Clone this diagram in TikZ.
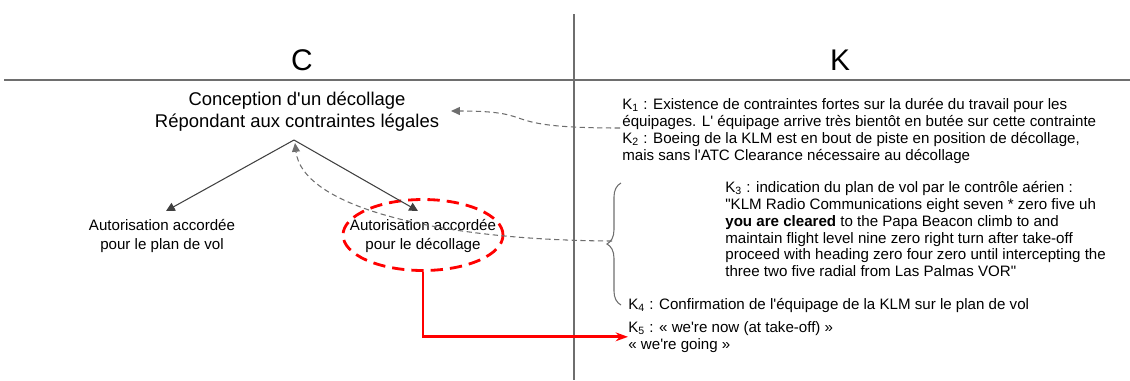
\documentclass[tikz,border=0pt]{standalone}
\usepackage{fontspec}
\setmainfont{Liberation Sans}[Ligatures=TeXOff]
\usetikzlibrary{arrows.meta, positioning, shapes.geometric, calc, decorations.pathreplacing}
\definecolor{gridGray}{HTML}{6E6E6E}
\definecolor{tipGray}{HTML}{404040}
\definecolor{alertRed}{HTML}{FF0000}

\begin{document}
\begin{tikzpicture}[x=0.02cm, y=-0.02cm,
  coltitle/.style={font=\fontsize{17}{20}\selectfont, inner sep=0pt},
  goal/.style={font=\fontsize{10.5}{12.5}\selectfont, align=center, inner sep=1pt},
  lbl/.style={font=\fontsize{8.6}{10.8}\selectfont, align=center, inner sep=1pt},
  ktext/.style={font=\fontsize{8.6}{9.6}\selectfont, align=left, inner sep=0pt, anchor=north west},
  flow/.style={draw=gridGray, line width=0.6pt, -{Triangle[length=5pt, width=5pt]}, tipGray},
  hint/.style={draw=gridGray, line width=0.6pt, dash pattern=on 3pt off 2pt, -{Triangle[length=5pt, width=4.5pt]}},
  redoval/.style={ellipse, draw=alertRed, line width=1.6pt, dash pattern=on 7pt off 4pt,
                  minimum width=3.2cm, minimum height=1.42cm},
  redlink/.style={draw=alertRed, line width=1.6pt, -{Stealth[length=7pt, width=5pt]}},
]
  \useasboundingbox (0,0) rectangle (1130,380);

  % table frame
  \draw[gridGray, line width=0.8pt] (574,14) -- (574,380);
  \draw[gridGray, line width=1.6pt] (4,80) -- (1130,80);
  \node[coltitle] (colC) at (302,60) {C};
  \node[coltitle] (colK) at (840,60) {K};

  % side C
  \node[goal] (concept) at (297,112) {Conception d'un décollage\\Répondant aux contraintes légales};
  \coordinate (apex) at (294,140);
  \node[lbl] (planvol) at (162,236) {Autorisation accordée\\pour le plan de vol};
  \node[lbl] (decol) at (423,236) {Autorisation accordée\\pour le décollage};
  \node[redoval] (oval) at (423,235) {};
  \draw[flow] (apex) -- (166,211);
  \draw[flow] (apex) -- (418,211);

  % side K
  \node[ktext] (k1) at (622,98) {K\textsubscript{1} : Existence de contraintes fortes sur la durée du travail pour les\\
    équipages. L' équipage arrive très bientôt en butée sur cette contrainte\\
    K\textsubscript{2} : Boeing de la KLM est en bout de piste en position de décollage,\\
    mais sans l'ATC Clearance nécessaire au décollage};
  \node[ktext] (k3) at (725,181) {K\textsubscript{3} : indication du plan de vol par le contrôle aérien :\\
    "KLM Radio Communications eight seven * zero five uh\\
    \textbf{you are cleared} to the Papa Beacon climb to and\\
    maintain flight level nine zero right turn after take-off\\
    proceed with heading zero four zero until intercepting the\\
    three two five radial from Las Palmas VOR"};
  \node[ktext] (k4) at (628,298) {K\textsubscript{4} : Confirmation de l'équipage de la KLM sur le plan de vol};
  \node[ktext] (k5) at (628,321) {K\textsubscript{5} : « we're now (at take-off) »\\« we're going »};

  \draw[gridGray, line width=0.6pt, decorate, decoration={brace, amplitude=8}] (621,305) -- (621,183);
  \coordinate (tip) at (612,241);
  \coordinate (k1tail) at (620,128);

  % links
  \draw[hint] (k1tail) .. controls (490,128) and (545,111) .. (451,111);
  \draw[hint] (tip) .. controls (430,240) and (302,205) .. ($(apex)+(1,3)$);
  \draw[redlink] (oval.south) |- (k5.west);
\end{tikzpicture}
\end{document}
